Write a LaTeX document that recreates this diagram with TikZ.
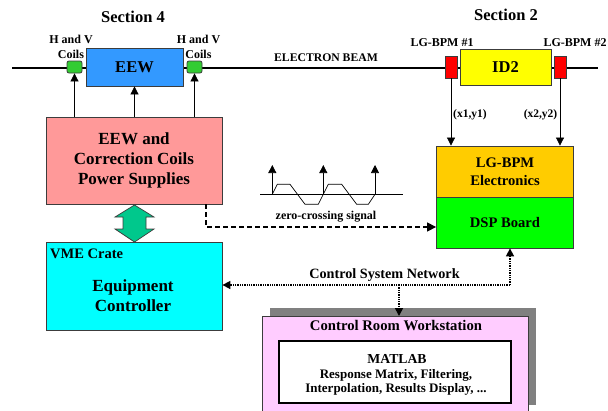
\documentclass[tikz,border=0pt]{standalone}
\usepackage{fontspec}
\setmainfont{Liberation Serif}[BoldFont={Liberation Serif Bold}]
\usetikzlibrary{arrows.meta,calc}
\definecolor{eewblue}{RGB}{51,153,255}
\definecolor{coilgreen}{RGB}{51,204,51}
\definecolor{idyellow}{RGB}{255,255,0}
\definecolor{bpmred}{RGB}{255,0,0}
\definecolor{pspink}{RGB}{255,153,153}
\definecolor{elorange}{RGB}{255,204,0}
\definecolor{dspgreen}{RGB}{0,255,0}
\definecolor{vmecyan}{RGB}{0,255,255}
\definecolor{dblteal}{RGB}{0,200,140}
\definecolor{wspink}{RGB}{255,204,255}
\definecolor{shadowgray}{RGB}{128,128,128}
\definecolor{edge}{RGB}{60,60,60}
\tikzset{
  box/.style={draw=edge, line width=0.8pt, inner sep=0pt, align=center, font=\bfseries},
  lbl/.style={inner sep=0pt, align=center, font=\bfseries},
  arr/.style={line width=0.7pt, -{Triangle[length=8pt,width=8pt]}},
  dasharr/.style={line width=1.3pt, dash pattern=on 5pt off 3pt, -{Triangle[length=9pt,width=9pt]}},
  dotarr/.style={line width=1.6pt, dash pattern=on 1.3pt off 1pt, -{Triangle[length=8pt,width=8pt]}},
}
\begin{document}
\begin{tikzpicture}[x=1pt,y=-1pt]
\useasboundingbox (0,0) rectangle (608,410);
\clip (0,0) rectangle (608,410);
\fill[white] (0,0) rectangle (608,410);

% beam line
\coordinate (beamL) at (12,68);
\coordinate (beamR) at (598,68);
\draw[line width=2pt] (beamL) -- (beamR);

% section labels
\node[lbl, font=\bfseries\fontsize{16.5}{18}\selectfont] (sec4) at (133,17) {Section 4};
\node[lbl, font=\bfseries\fontsize{16.5}{18}\selectfont] (sec2) at (506,15) {Section 2};

% Section 4 elements
\node[box, fill=eewblue, minimum width=97pt, minimum height=38pt, font=\bfseries\fontsize{16.5}{18}\selectfont] (eew) at (134.5,67) {EEW};
\node[box, fill=coilgreen, rounded corners=2pt, minimum width=15pt, minimum height=12pt] (coilL) at (74.5,67) {};
\node[box, fill=coilgreen, rounded corners=2pt, minimum width=15pt, minimum height=12pt] (coilR) at (194.5,67) {};
\node[lbl, font=\bfseries\fontsize{12}{14.5}\selectfont] (hvL) at (71,47) {H and V\\Coils};
\node[lbl, font=\bfseries\fontsize{12}{14.5}\selectfont] (hvR) at (198.5,47) {H and V\\Coils};

\node[lbl, font=\bfseries\fontsize{11.7}{13}\selectfont] (ebeam) at (326,58) {ELECTRON BEAM};

% Section 2 elements
\node[box, fill=idyellow, minimum width=91pt, minimum height=36pt, font=\bfseries\fontsize{16.5}{18}\selectfont] (id2) at (505.5,67) {ID2};
\node[box, fill=bpmred, minimum width=12pt, minimum height=22pt] (bpmL) at (451,67) {};
\node[box, fill=bpmred, minimum width=12pt, minimum height=22pt] (bpmR) at (560,67) {};
\node[lbl, font=\bfseries\fontsize{12}{14}\selectfont] (bpm1lbl) at (442,43) {LG-BPM \#1};
\node[lbl, font=\bfseries\fontsize{12}{14}\selectfont] (bpm2lbl) at (575,43) {LG-BPM \#2};

% boxes
\node[box, fill=pspink, minimum width=176pt, minimum height=87pt, font=\bfseries\fontsize{17}{20}\selectfont] (ps) at (134,160.5) {EEW and\\Correction Coils\\Power Supplies};
\node[box, fill=vmecyan, minimum width=176pt, minimum height=88pt] (vme) at (134,286) {};
\node[lbl, anchor=west, font=\bfseries\fontsize{14.5}{16}\selectfont] (vmelbl) at (50,254) {VME Crate};
\node[lbl, font=\bfseries\fontsize{17}{19.5}\selectfont] (eqc) at (133,295.5) {Equipment\\Controller};

\node[box, fill=elorange, minimum width=137pt, minimum height=51pt, font=\bfseries\fontsize{14.6}{17.8}\selectfont] (lgbpm) at (505,171.5) {LG-BPM\\Electronics};
\node[box, fill=dspgreen, minimum width=137pt, minimum height=51pt, font=\bfseries\fontsize{14.6}{17}\selectfont] (dsp) at (505,222.5) {DSP Board};

% workstation
\fill[shadowgray] (270,308) rectangle (536,405);
\node[box, fill=wspink, minimum width=266pt, minimum height=100pt, anchor=north west] (crw) at (262,316) {};
\node[lbl, font=\bfseries\fontsize{14.7}{16}\selectfont] (crwlbl) at (396,326) {Control Room Workstation};
\node[draw=black, line width=1.8pt, fill=white, minimum width=232pt, minimum height=62pt, inner sep=0pt] (mat) at (395,372) {};
\node[lbl, font=\bfseries\fontsize{13.7}{15}\selectfont] (matlbl) at (397,359) {MATLAB};
\node[lbl, font=\bfseries\fontsize{13}{14}\selectfont] (matdesc) at (396,382.5) {Response Matrix, Filtering,\\Interpolation, Results Display, ...};

% power supply arrows
\draw[arr] (ps.north -| coilL) -- (coilL.south);
\draw[arr] (ps.north -| eew) -- (eew.south);
\draw[arr] (ps.north -| coilR) -- (coilR.south);

% BPM arrows
\draw[arr] (bpmL.south) -- (lgbpm.north -| bpmL);
\draw[arr] (bpmR.south) -- (lgbpm.north -| bpmR);
\node[lbl, anchor=west, font=\bfseries\fontsize{11.5}{12}\selectfont] (xy1) at (453,115) {(x1,y1)};
\node[lbl, anchor=east, font=\bfseries\fontsize{11.5}{12}\selectfont] (xy2) at (557.5,115) {(x2,y2)};

% fat double arrow
\draw[draw=edge, line width=0.7pt, fill=dblteal]
  (134.5,205) -- (154,217) -- (146,217) -- (146,229) -- (154,229) -- (134.5,242)
  -- (115,229) -- (123,229) -- (123,217) -- (115,217) -- cycle;

% dashed zero-crossing connector
\coordinate (dk) at (206,227);
\draw[dasharr] (ps.south -| dk) |- (dsp.west |- dk);

% zero-crossing signal sketch
\draw[line width=0.6pt] (260,194.3) -- (403,194.3);
\draw[line width=0.7pt] (272.3,194.3) -- (277.3,184.3) -- (290,184.3) -- (305,204.3) -- (318.3,204.3)
  -- (328.3,184.3) -- (341.7,184.3) -- (356.7,204.3) -- (368.3,204.3) -- (375,194.3);
\foreach \xx in {272.3,323.3,375} {
  \draw[line width=0.7pt, -{Triangle[length=8pt,width=8pt]}] (\xx,194.3) -- (\xx,165);
}
\node[lbl, font=\bfseries\fontsize{12}{13}\selectfont] (zcs) at (326,217) {zero-crossing signal};

% control system network
\coordinate (netC) at (399,285);
\coordinate (netR) at (510,285);
\draw[dotarr] (netR) -- (dsp.south -| netR);
\draw[dotarr] (netR) -- (vme.east |- netR);
\draw[dotarr] (netC) -- (crw.north -| netC);
\node[lbl, font=\bfseries\fontsize{14.2}{16}\selectfont] (csn) at (384.5,275) {Control System Network};
\end{tikzpicture}
\end{document}
